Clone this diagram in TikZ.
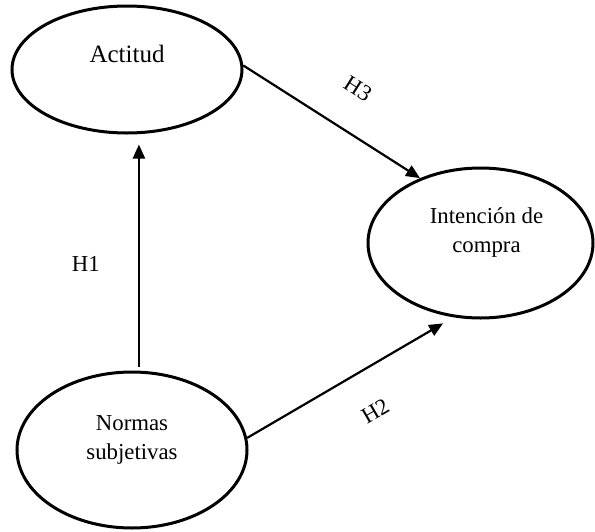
\documentclass[tikz,border=0pt]{standalone}
\usepackage{fontspec}
\setmainfont{Liberation Serif}
\usetikzlibrary{shapes.geometric, arrows.meta, positioning}
\tikzstyle{construct} = [ellipse, draw=black, line width=1.5pt, minimum width=115pt, inner sep=0pt]
\tikzstyle{caption} = [font=\fontsize{11.4}{14.5}\selectfont, align=center, inner sep=0pt]
\tikzstyle{hyp} = [font=\fontsize{11.4}{14}\selectfont, inner sep=0pt]
\tikzstyle{arrow} = [line width=1.1pt, -{Triangle[length=7pt, width=6pt]}]

\begin{document}
\begin{tikzpicture}[x=0.5pt, y=-0.5pt]
	\useasboundingbox (0,0) rectangle (595,531);

	% Constructs
	\node (actitud) [construct, minimum height=63.5pt, label={[caption, font=\fontsize{12.5}{15}\selectfont, yshift=7.75pt]center:Actitud}] at (127,69.5) {};
	\node (normas) [construct, minimum height=78pt, label={[caption, yshift=5.25pt]center:Normas\\subjetivas}] at (132,450) {};
	\node (intencion) [construct, minimum width=112.5pt, minimum height=75pt, label={[caption, xshift=3pt, yshift=5.25pt]center:Intención de\\compra}] at (480.5,243) {};

	% Hypotheses
	\draw [arrow, shorten <=2pt, shorten >=5pt] (normas.85.6) -- (normas.85.6 |- actitud.south) node [hyp, pos=0.45, left=19pt] {H1};
	\draw [arrow, shorten >=6pt] (normas.6) -- (intencion.250) node [hyp, pos=0.52, sloped, below=16.3pt] {H2};
	\draw [arrow] (actitud.2) -- (intencion.133) node [hyp, pos=0.52, sloped, above=16.75pt] {H3};

\end{tikzpicture}
\end{document}
